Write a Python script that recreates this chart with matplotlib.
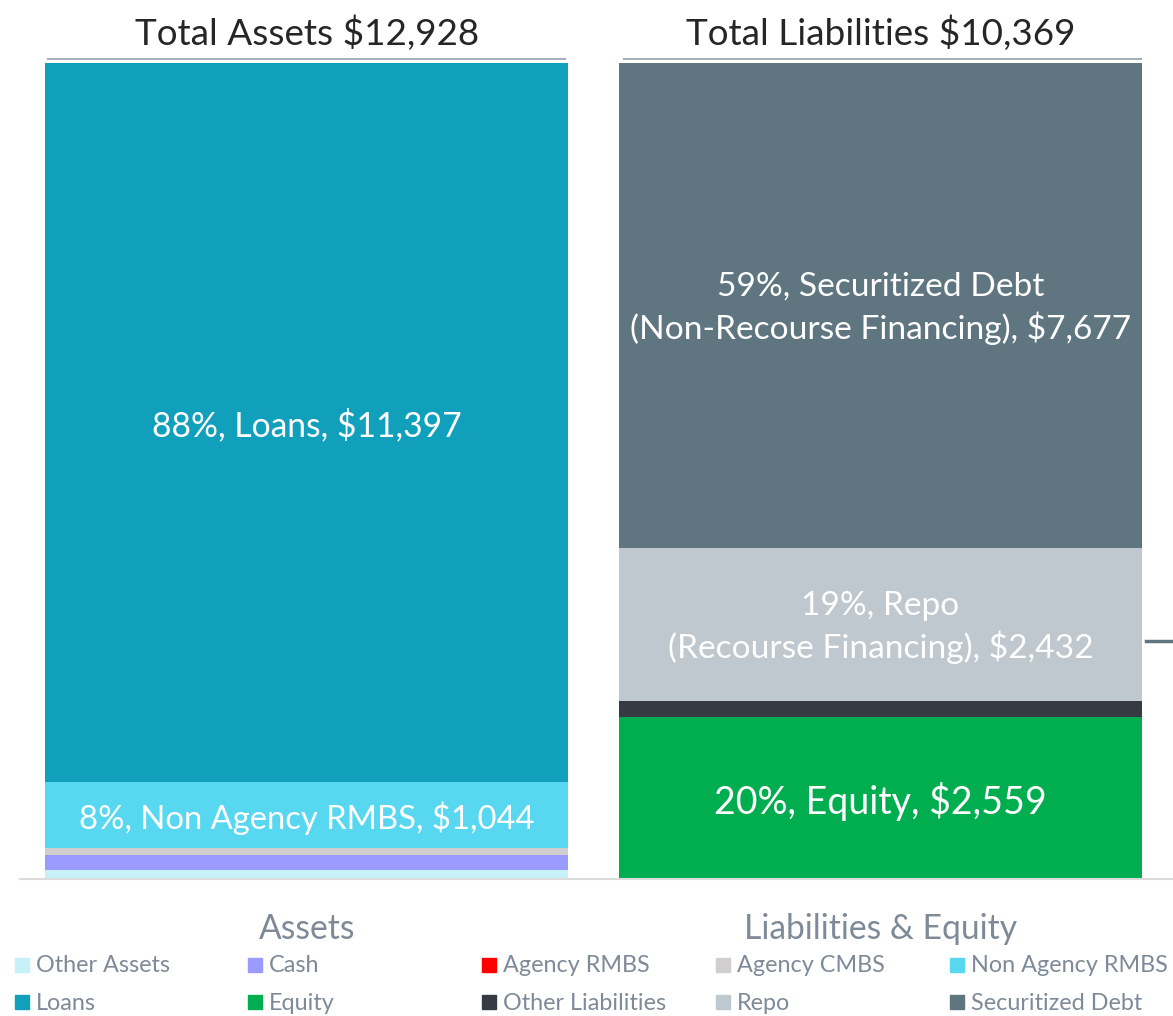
import matplotlib
matplotlib.use("Agg")
import matplotlib.pyplot as plt
from matplotlib.patches import Rectangle
from matplotlib.lines import Line2D

plt.rcParams['font.family'] = ['Lato', 'DejaVu Sans']

# ---- data ----
asset_names = ["Other Assets", "Cash", "Agency RMBS", "Agency CMBS", "Non Agency RMBS", "Loans"]
asset_values = [150, 230, 0, 107, 1044, 11397]
asset_colors = ["#c5f1f7", "#9b9bff", "#ff0000", "#d0cece", "#57d8f0", "#11a0bc"]
asset_labels = [None, None, None, None, "8%, Non Agency RMBS, $1,044", "88%, Loans, $11,397"]

liab_names = ["Equity", "Other Liabilities", "Repo", "Securitized Debt"]
liab_values = [2559, 260, 2432, 7677]
liab_colors = ["#00ae4f", "#353a43", "#bec8ce", "#5f7580"]
liab_labels = ["20%, Equity, $2,559", None, "19%, Repo\n(Recourse Financing), $2,432",
               "59%, Securitized Debt\n(Non-Recourse Financing), $7,677"]

titles = ["Total Assets $12,928", "Total Liabilities $10,369"]

legend_row1 = ["Other Assets", "Cash", "Agency RMBS", "Agency CMBS", "Non Agency RMBS"]
legend_row2 = ["Loans", "Equity", "Other Liabilities", "Repo", "Securitized Debt"]
color_map = dict(zip(asset_names + liab_names, asset_colors + liab_colors))

W, H = 1173, 1016
fig = plt.figure(figsize=(W / 100, H / 100), dpi=100)

# axes in pixel coordinates
ax_left, ax_right, ax_bottom, ax_top = 20, 1173, 879, 63
ax = fig.add_axes([ax_left / W, 1 - ax_bottom / H, (ax_right - ax_left) / W, (ax_bottom - ax_top) / H])
total = sum(asset_values)
ax.set_ylim(0, total)
ax.set_xlim(-0.4991, 1.5096)
bw = 0.911

def stack(xpos, vals, cols, labels, sizes):
    bottom = 0
    for i, (v, c) in enumerate(zip(vals, cols)):
        ax.bar(xpos, v, bottom=bottom, width=bw, color=c, linewidth=0)
        if labels[i]:
            ax.annotate(labels[i], (xpos, bottom + v / 2), xytext=(0, -3), textcoords='offset pixels',
                        ha='center', va='center', color='white',
                        fontsize=sizes[i], linespacing=1.35)
        bottom += v

stack(0, asset_values, asset_colors, asset_labels, [None, None, None, None, 23.6, 24.2])
stack(1, liab_values, liab_colors, liab_labels, [27.0, None, 24.1, 24.1])

for s in ['top', 'left', 'right']:
    ax.spines[s].set_visible(False)
ax.spines['bottom'].set_color('#dcdcdc')
ax.spines['bottom'].set_linewidth(1.5)
ax.set_xticks([])
ax.set_yticks([])
ax.patch.set_alpha(0)

# titles and lines above bars
for xc, t, (x0, x1) in zip([307, 881], titles, [(48, 565), (624, 1141)]):
    fig.text(xc / W, 1 - 33 / H, t, ha='center', va='center', fontsize=26.6, color='#262626')
    fig.add_artist(Line2D([x0 / W, x1 / W], [1 - 59 / H, 1 - 59 / H], color='#a8b0b8', lw=1.5))

# small bracket tip at right edge
fig.add_artist(Line2D([1146 / W, 1173 / W], [1 - 641 / H, 1 - 641 / H], color='#5f7580', lw=2.5))

# legend headers
fig.text(307 / W, 1 - 929 / H, "Assets", ha='center', va='center', fontsize=24.2, color='#7f8a99')
fig.text(881 / W, 1 - 929 / H, "Liabilities & Equity", ha='center', va='center', fontsize=24.2,
         color='#7f8a99')

col_x = [15, 248, 482, 716, 950]
for row, yc in zip([legend_row1, legend_row2], [965, 1002]):
    for name, x in zip(row, col_x):
        fig.add_artist(Rectangle((x / W, 1 - (yc + 7) / H), 14 / W, 14 / H,
                                 color=color_map[name], transform=fig.transFigure))
        fig.text((x + 21) / W, 1 - (yc + 1) / H, name, ha='left', va='center', fontsize=16.8,
                 color='#7f8a99')

fig.savefig("out.png", dpi=100)
